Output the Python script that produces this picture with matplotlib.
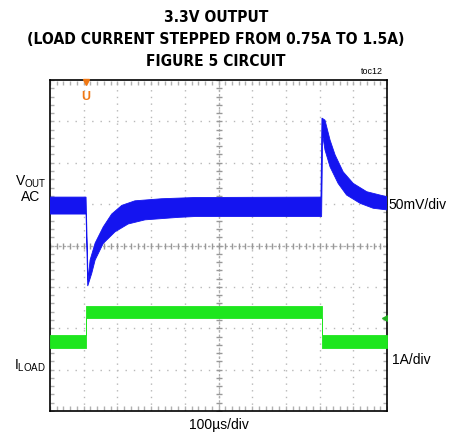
import matplotlib
matplotlib.use("Agg")
import matplotlib.pyplot as plt
from matplotlib import font_manager

# Police : pas d'Arial Narrow, on prend une version condensée si elle existe
noms = {f.name for f in font_manager.fontManager.ttflist}
police = "Liberation Sans" if "Liberation Sans" in noms else "DejaVu Sans"
if "Liberation Sans Narrow" in noms:
    titre_police, titre_stretch, titre_taille = "Liberation Sans Narrow", "normal", 12.5
else:
    titre_police, titre_stretch, titre_taille = "DejaVu Sans", "condensed", 11.2
plt.rcParams["font.family"] = police
plt.rcParams["mathtext.fontset"] = "custom"
plt.rcParams["mathtext.rm"] = police

# Tension de sortie (couplage AC) : enveloppe haute puis basse du bruit
vout_haut_t = [0, 1.07, 1.13, 1.19, 1.34, 1.58, 1.83, 2.13, 2.52, 3.31, 4.30, 8.04,
               8.07, 8.16, 8.31, 8.46, 8.70, 9.00, 9.40, 9.79, 10]
vout_haut = [1.17, 1.17, -0.83, -0.35, 0.06, 0.45, 0.76, 0.97, 1.08, 1.13, 1.16, 1.17,
             3.08, 3.03, 2.55, 2.19, 1.78, 1.50, 1.30, 1.22, 1.18]
vout_bas_t = [0, 1.07, 1.12, 1.24, 1.34, 1.58, 1.93, 2.32, 2.82, 3.81, 4.30, 8.06,
              8.09, 8.16, 8.31, 8.55, 8.80, 9.20, 9.59, 10]
vout_bas = [0.76, 0.76, -0.98, -0.67, -0.35, 0.05, 0.33, 0.52, 0.62, 0.68, 0.70, 0.70,
            2.67, 2.31, 1.90, 1.50, 1.22, 1.02, 0.90, 0.86]

# Courant de charge : échelon 0.75A -> 1.5A -> 0.75A
iload_t = [0, 1.07, 1.07, 8.07, 8.07, 10]
iload_haut = [-2.16, -2.16, -1.46, -1.46, -2.16, -2.16]
iload_bas = [-2.48, -2.48, -1.75, -1.75, -2.47, -2.47]

bleu = "#1414f0"
vert = "#1ee61e"

fig = plt.figure(figsize=(4.49, 4.33), dpi=100)
ax = fig.add_axes([50 / 449, 22 / 433, 337 / 449, 331 / 433])
ax.set_xlim(0, 10)
ax.set_ylim(-4, 4)

# Grille pointillée façon oscilloscope
for k in range(1, 10):
    ax.axvline(k, color="#b8b8b8", lw=1.0, ls=(0, (1, 3.8)), zorder=1)
for k in range(-3, 4):
    ax.axhline(k, color="#b8b8b8", lw=1.0, ls=(0, (1, 5)), zorder=1)

# Axes centraux : petites croix tous les 0.2 div
ticks_x = [i / 5 for i in range(51)]
ticks_y = [i / 5 - 4 for i in range(41)]
ax.plot([0, 10], [0, 0], color="#b0b0b0", lw=0.9, ls=(0, (2, 1.5)), zorder=1)
ax.plot([5, 5], [-4, 4], color="#b0b0b0", lw=0.9, ls=(0, (2, 1.5)), zorder=1)
ax.plot(ticks_x, [0] * len(ticks_x), ls="none", marker="|", ms=4, color="#999999", zorder=1)
ax.plot([5] * len(ticks_y), ticks_y, ls="none", marker="_", ms=4, color="#999999", zorder=1)
# graduations sur le cadre
ax.plot(ticks_x, [3.93] * len(ticks_x), ls="none", marker="|", ms=2.5, color="#b0b0b0", zorder=1)
ax.plot(ticks_x, [-3.93] * len(ticks_x), ls="none", marker="|", ms=2.5, color="#b0b0b0", zorder=1)
ax.plot([0.05] * len(ticks_y), ticks_y, ls="none", marker="_", ms=2.5, color="#b0b0b0", zorder=1)
ax.plot([9.95] * len(ticks_y), ticks_y, ls="none", marker="_", ms=2.5, color="#b0b0b0", zorder=1)

# Traces
ax.fill(vout_haut_t + vout_bas_t[::-1], vout_haut + vout_bas[::-1],
        color=bleu, lw=0.6, ec=bleu, zorder=3)
ax.fill_between(iload_t, iload_bas, iload_haut, color=vert, lw=0.6, ec=vert, zorder=3)

# Repères : déclenchement (orange) et zéro de la voie 2 (vert)
orange = "#f07814"
ax.plot([1.07], [3.95], marker="v", ms=5, color=orange, clip_on=False, zorder=4)
ax.text(1.07, 3.6, "U", color=orange, fontsize=9, fontweight="bold",
        ha="center", va="center", zorder=4)
ax.plot([9.93], [-1.75], marker="<", ms=5, color="#22b022", zorder=4)

ax.set_xticks([])
ax.set_yticks([])
for s in ax.spines.values():
    s.set_linewidth(1.2)
    s.set_color("black")

# Textes
for y, txt in [(18, "3.3V OUTPUT"),
               (40, "(LOAD CURRENT STEPPED FROM 0.75A TO 1.5A)"),
               (61, "FIGURE 5 CIRCUIT")]:
    fig.text(216 / 449, 1 - y / 433, txt, ha="center", va="center", fontsize=titre_taille,
             fontweight="bold", family=titre_police, fontstretch=titre_stretch)
fig.text(372 / 449, 1 - 72 / 433, "toc12", ha="center", va="center", fontsize=6.5)

fig.text(31 / 449, 1 - 182 / 433, r"V$_{\mathrm{OUT}}$", ha="center", va="center", fontsize=10)
fig.text(31 / 449, 1 - 197 / 433, "AC", ha="center", va="center", fontsize=10)
fig.text(388 / 449, 1 - 205 / 433, "50mV/div", ha="left", va="center", fontsize=10)
fig.text(30 / 449, 1 - 366 / 433, r"I$_{\mathrm{LOAD}}$", ha="center", va="center", fontsize=10)
fig.text(392 / 449, 1 - 360 / 433, "1A/div", ha="left", va="center", fontsize=10)
fig.text(219 / 449, 1 - 425 / 433, "100µs/div", ha="center", va="center", fontsize=10)

fig.savefig("out.png", dpi=100)
